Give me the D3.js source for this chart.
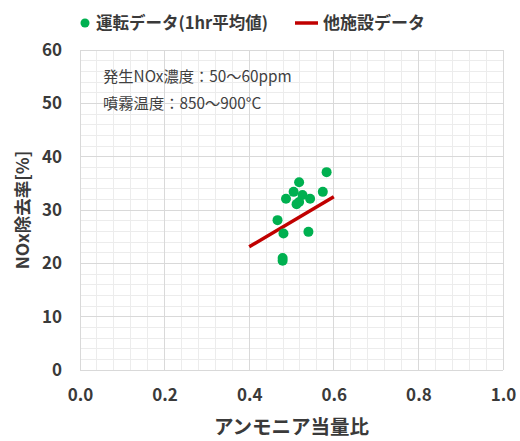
<!DOCTYPE html>
<html><head><meta charset="utf-8">
<script src="https://cdn.jsdelivr.net/npm/d3@7"></script>
<style>body{margin:0;background:#fff}</style>
</head><body><svg id="c" width="520" height="441"></svg>
<script>
const opX = [0.583,0.518,0.505,0.487,0.526,0.544,0.518,0.512,0.574,0.467,0.481,0.540,0.479,0.479];
const opY = [37.1,35.2,33.4,32.1,32.8,32.1,31.5,31.1,33.4,28.1,25.6,25.9,21.0,20.5];
const otherX = [0.40,0.60];
const otherY = [23.1,32.5];
const xTicks = [0,0.2,0.4,0.6,0.8,1.0];
const yTicks = [0,10,20,30,40,50,60];
const notes = ["発生NOx濃度：50〜60ppm","噴霧温度：850〜900°C"];
const legendLabels = ["運転データ(1hr平均値)","他施設データ"];

const svg = d3.select("#c");
const x = d3.scaleLinear().domain([0,1]).range([80,503]);
const y = d3.scaleLinear().domain([0,60]).range([370,50]);
const font = "'Noto Sans CJK JP', 'Noto Sans', sans-serif";

// minor grid
const g = svg.append("g");
g.selectAll(".mx").data(d3.range(0,1.0001,0.04)).join("line")
  .attr("x1",d=>x(d)).attr("x2",d=>x(d)).attr("y1",y(0)).attr("y2",y(60))
  .attr("stroke","#ececec").attr("stroke-width",1).attr("shape-rendering","crispEdges");
g.selectAll(".my").data(d3.range(0,60.001,2)).join("line")
  .attr("y1",d=>y(d)).attr("y2",d=>y(d)).attr("x1",x(0)).attr("x2",x(1))
  .attr("stroke","#ececec").attr("stroke-width",1).attr("shape-rendering","crispEdges");
// major grid
g.selectAll(".Mx").data(xTicks).join("line")
  .attr("x1",d=>x(d)).attr("x2",d=>x(d)).attr("y1",y(0)).attr("y2",y(60))
  .attr("stroke","#d9d9d9").attr("stroke-width",1).attr("shape-rendering","crispEdges");
g.selectAll(".My").data(yTicks).join("line")
  .attr("y1",d=>y(d)).attr("y2",d=>y(d)).attr("x1",x(0)).attr("x2",x(1))
  .attr("stroke","#d9d9d9").attr("stroke-width",1).attr("shape-rendering","crispEdges");

// axes
const xa = svg.append("g").attr("transform",`translate(0,${y(0)})`)
  .call(d3.axisBottom(x).tickValues(xTicks).tickFormat(d3.format(".1f")).tickSize(0).tickPadding(19));
const ya = svg.append("g").attr("transform",`translate(${x(0)},0)`)
  .call(d3.axisLeft(y).tickValues(yTicks).tickSize(0).tickPadding(18));
[xa,ya].forEach(a=>{a.select(".domain").remove();
  a.selectAll("text").attr("font-family",font).attr("font-size",17).attr("font-weight","bold").attr("fill","#3a3a3a");});

// axis titles
svg.append("text").attr("x",(x(0)+x(1))/2).attr("y",434).attr("text-anchor","middle")
  .attr("font-family",font).attr("font-size",19.5).attr("font-weight","bold").attr("fill","#3a3a3a")
  .text("アンモニア当量比");
svg.append("text").attr("transform",`translate(29,${y(30)}) rotate(-90)`).attr("text-anchor","middle")
  .attr("font-family",font).attr("font-size",17.5).attr("font-weight","bold").attr("fill","#3a3a3a")
  .text("NOx除去率[%]");

// notes
svg.selectAll(".note").data(notes).join("text")
  .attr("x",103).attr("y",(d,i)=>82+i*27).attr("font-family",font).attr("font-size",15.3)
  .attr("fill","#404040").text(d=>d);

// other facility line
const line = d3.line().x((d,i)=>x(otherX[i])).y((d,i)=>y(otherY[i]));
svg.append("path").attr("d",line(otherX)).attr("fill","none").attr("stroke","#c00000").attr("stroke-width",3.5);

// points
svg.selectAll(".pt").data(opX).join("circle")
  .attr("cx",d=>x(d)).attr("cy",(d,i)=>y(opY[i])).attr("r",5).attr("fill","#00b050");

// legend
svg.append("circle").attr("cx",85).attr("cy",23).attr("r",4.5).attr("fill","#00b050");
svg.append("text").attr("x",96).attr("y",29).attr("font-family",font).attr("font-size",16.5)
  .attr("font-weight","bold").attr("fill","#3a3a3a").text(legendLabels[0]);
svg.append("line").attr("x1",295).attr("x2",318).attr("y1",23).attr("y2",23)
  .attr("stroke","#c00000").attr("stroke-width",3.5);
svg.append("text").attr("x",323).attr("y",29).attr("font-family",font).attr("font-size",17)
  .attr("font-weight","bold").attr("fill","#3a3a3a").text(legendLabels[1]);
</script></body></html>
